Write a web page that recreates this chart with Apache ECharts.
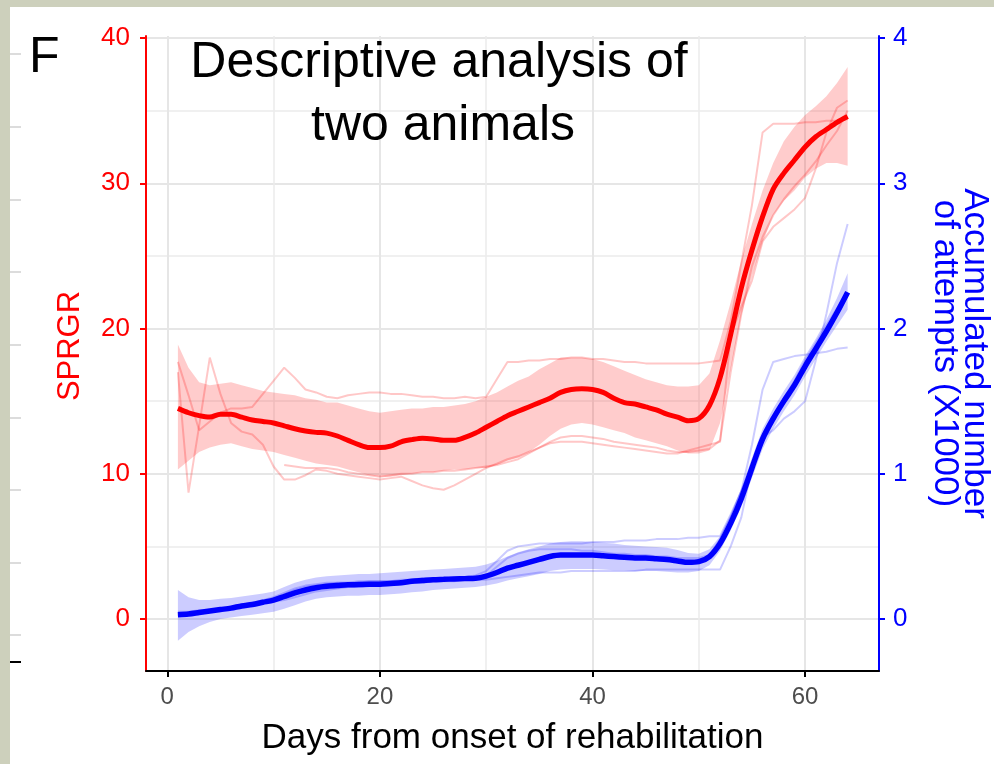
<!DOCTYPE html>
<html>
<head>
<meta charset="utf-8">
<title>Descriptive analysis of two animals</title>
<script src="https://cdn.jsdelivr.net/npm/echarts@6/dist/echarts.min.js"></script>
<style>
  html, body { margin: 0; padding: 0; background: #cdd0bc; }
  #chart { width: 994px; height: 764px; }
</style>
</head>
<body>
<div id="chart"></div>
<script>
// Days since the start of rehabilitation
const days = Array.from({ length: 64 }, (_, i) => i + 1);

// SPRGR: smoothed mean with its confidence band
const sprgrMean = [
  14.5, 14.2, 14.0, 13.9, 14.1, 14.1, 13.9, 13.7, 13.6, 13.5,
  13.3, 13.1, 12.95, 12.85, 12.8, 12.6, 12.3, 12.0, 11.8, 11.8,
  11.9, 12.2, 12.35, 12.45, 12.4, 12.3, 12.3, 12.5, 12.8, 13.2,
  13.6, 14.0, 14.3, 14.6, 14.9, 15.2, 15.6, 15.8, 15.85, 15.8,
  15.6, 15.2, 14.9, 14.8, 14.6, 14.4, 14.1, 13.9, 13.65, 13.8,
  14.7, 16.6, 19.6, 22.8, 25.4, 27.7, 29.6, 30.7, 31.6, 32.5,
  33.2, 33.7, 34.2, 34.6
];
const sprgrUpper = [
  18.9, 17.3, 16.3, 16.1, 16.2, 16.3, 16.1, 15.9, 15.7, 15.6,
  15.5, 15.4, 15.2, 15.1, 14.9, 14.9, 14.7, 14.5, 14.3, 14.2,
  14.3, 14.4, 14.5, 14.5, 14.6, 14.6, 14.7, 14.8, 15.0, 15.3,
  15.6, 16.0, 16.4, 16.7, 17.2, 17.6, 18.0, 18.0, 18.0, 17.9,
  17.7, 17.4, 17.1, 16.8, 16.5, 16.3, 16.1, 16.0, 16.0, 16.1,
  16.9, 19.2, 21.8, 24.7, 27.2, 29.5, 31.4, 32.9, 33.9, 34.7,
  35.3, 36.0, 36.9, 38.0
];
const sprgrLower = [
  10.3, 10.9, 11.5, 11.8, 12.0, 12.1, 11.9, 11.7, 11.6, 11.5,
  11.3, 11.1, 10.9, 10.7, 10.6, 10.5, 10.3, 10.1, 9.9, 9.8,
  9.8, 9.9, 10.0, 10.1, 10.1, 10.2, 10.3, 10.3, 10.4, 10.4,
  10.6, 10.9, 11.1, 11.5, 12.0, 12.6, 13.1, 13.4, 13.5, 13.4,
  13.2, 13.0, 12.8, 12.5, 12.3, 12.1, 11.9, 11.6, 11.4, 11.4,
  11.6, 13.5, 17.2, 20.9, 23.6, 25.9, 27.8, 28.8, 29.5, 30.4,
  31.0, 31.4, 31.4, 31.2
];
// SPRGR: individual traces
const sprgrTraceA = [
  17.7, 15.4, 13.0, 13.6, 14.2, 14.5, 14.5, 14.6, 15.5, 16.4,
  17.3, 16.6, 15.8, 15.6, 15.3, 15.2, 15.4, 15.5, 15.6, 15.6,
  15.5, 15.5, 15.4, 15.3, 15.3, 15.2, 15.2, 15.3, 15.2, 15.3,
  16.5, 17.7, 17.7, 17.8, 17.8, 17.9, 17.9, 18.0, 18.0, 17.9,
  17.9, 17.8, 17.7, 17.7, 17.6, 17.6, 17.6, 17.6, 17.6, 17.6,
  17.7, 17.8, 20.5, 24.5, 28.5, 33.5, 34.1, 34.1, 34.1, 34.2,
  34.2, 34.3, 34.3, 34.4
];
const sprgrTraceB = [
  17.0, 8.7, 13.3, 18.0, 15.5, 13.5, 12.9, 12.7, 12.0, 10.5,
  9.6, 9.6, 9.9, 10.3, 10.2, 10.0, 9.9, 9.8, 9.7, 9.6,
  9.7, 9.8, 9.5, 9.2, 9.0, 8.9, 9.2, 9.6, 10.0, 10.4,
  10.7, 11.0, 11.2, 11.5, 11.8, 12.1, 12.2, 12.2, 12.2, 12.1,
  12.0, 11.9, 11.8, 11.7, 11.6, 11.5, 11.4, 11.4, 11.6, 11.8,
  12.0, 12.2, 19.5, 21.5, 23.3, 26.0, 27.0, 27.6, 28.2, 29.0,
  31.0, 33.5, 35.2, 35.7
];
const sprgrTraceC = [
  null, null, null, null, null, null, null, null, null, null,
  10.6, 10.5, 10.4, 10.4, 10.4, 10.3, 10.1, 10.0, 9.9, 9.8,
  9.9, 10.0, 10.0, 10.1, 10.1, 10.2, 10.2, 10.3, 10.4, 10.5,
  10.6, 10.8, 11.0, 11.4, 11.8, 12.2, 12.5, 12.6, 12.6, 12.5,
  12.4, 12.2, 12.1, 12.0, 11.9, 11.8, 11.6, 11.5, 11.5, 11.6,
  11.7, 12.3, 17.0, 21.0, 24.3, 26.3, 27.8, 28.9, 29.8, 30.6,
  31.5, 32.6, 33.6, 35.0
];

// Accumulated attempts (thousands): smoothed mean with its confidence band
const attMean = [
  0.03, 0.035, 0.045, 0.055, 0.065, 0.075, 0.09, 0.10, 0.115, 0.13,
  0.155, 0.18, 0.20, 0.215, 0.225, 0.23, 0.235, 0.237, 0.24, 0.24,
  0.245, 0.25, 0.26, 0.265, 0.27, 0.273, 0.276, 0.278, 0.28, 0.295,
  0.32, 0.35, 0.37, 0.39, 0.41, 0.43, 0.44, 0.44, 0.44, 0.44,
  0.435, 0.43, 0.425, 0.42, 0.42, 0.415, 0.41, 0.40, 0.39, 0.395,
  0.43, 0.52, 0.66, 0.83, 1.04, 1.24, 1.38, 1.50, 1.61, 1.74,
  1.86, 1.98, 2.11, 2.25
];
const attUpper = [
  0.20, 0.15, 0.13, 0.13, 0.14, 0.145, 0.155, 0.165, 0.175, 0.19,
  0.22, 0.25, 0.27, 0.285, 0.295, 0.30, 0.305, 0.31, 0.31, 0.315,
  0.32, 0.325, 0.33, 0.335, 0.34, 0.345, 0.35, 0.355, 0.36, 0.375,
  0.40, 0.43, 0.46, 0.48, 0.50, 0.52, 0.53, 0.535, 0.535, 0.53,
  0.525, 0.52, 0.51, 0.505, 0.50, 0.495, 0.49, 0.475, 0.455, 0.45,
  0.48, 0.57, 0.72, 0.90, 1.11, 1.31, 1.45, 1.57, 1.68, 1.81,
  1.93, 2.06, 2.21, 2.38
];
const attLower = [
  -0.15, -0.09, -0.05, -0.02, 0.0, 0.01, 0.02, 0.03, 0.04, 0.05,
  0.07, 0.095, 0.12, 0.14, 0.15, 0.155, 0.16, 0.16, 0.165, 0.165,
  0.17, 0.175, 0.185, 0.19, 0.20, 0.205, 0.21, 0.215, 0.22, 0.23,
  0.245, 0.265, 0.28, 0.295, 0.31, 0.33, 0.34, 0.345, 0.345, 0.345,
  0.34, 0.335, 0.335, 0.33, 0.33, 0.33, 0.325, 0.32, 0.32, 0.33,
  0.37, 0.47, 0.61, 0.77, 0.97, 1.17, 1.31, 1.43, 1.54, 1.67,
  1.79, 1.91, 2.02, 2.13
];
// Accumulated attempts (thousands): individual traces
const attTraceA = [
  0.02, 0.03, 0.04, 0.05, 0.06, 0.07, 0.08, 0.10, 0.12, 0.14,
  0.17, 0.20, 0.22, 0.23, 0.24, 0.25, 0.25, 0.25, 0.26, 0.26,
  0.26, 0.27, 0.27, 0.28, 0.28, 0.28, 0.29, 0.29, 0.30, 0.33,
  0.40, 0.47, 0.50, 0.51, 0.52, 0.52, 0.52, 0.52, 0.52, 0.53,
  0.53, 0.53, 0.54, 0.54, 0.54, 0.55, 0.55, 0.55, 0.56, 0.56,
  0.57, 0.57, 0.72, 0.88, 1.20, 1.58, 1.77, 1.79, 1.81, 1.82,
  1.83, 1.84, 1.86, 1.87
];
const attTraceB = [
  0.05, 0.05, 0.06, 0.06, 0.07, 0.08, 0.09, 0.10, 0.11, 0.12,
  0.13, 0.15, 0.17, 0.19, 0.20, 0.21, 0.22, 0.22, 0.23, 0.23,
  0.24, 0.24, 0.25, 0.25, 0.26, 0.26, 0.26, 0.27, 0.27, 0.27,
  0.28, 0.29, 0.30, 0.31, 0.32, 0.32, 0.32, 0.33, 0.33, 0.33,
  0.33, 0.33, 0.33, 0.33, 0.34, 0.34, 0.34, 0.34, 0.34, 0.34,
  0.34, 0.34, 0.50, 0.70, 1.05, 1.25, 1.30, 1.38, 1.43, 1.50,
  1.78, 2.10, 2.45, 2.72
];
const attTraceC = [
  0.03, 0.04, 0.05, 0.06, 0.07, 0.08, 0.10, 0.11, 0.13, 0.15,
  0.18, 0.21, 0.23, 0.24, 0.25, 0.25, 0.25, 0.26, 0.26, 0.26,
  0.26, 0.26, 0.27, 0.27, 0.28, 0.28, 0.28, 0.28, 0.28, 0.30,
  0.36, 0.42, 0.45, 0.47, 0.48, 0.48, 0.48, 0.48, 0.47, 0.47,
  0.46, 0.45, 0.45, 0.44, 0.44, 0.43, 0.43, 0.42, 0.42, 0.42,
  0.44, 0.55, 0.70, 0.88, 1.05, 1.22, 1.38, 1.52, 1.64, 1.78,
  1.90, 2.02, 2.14, 2.25
];

// Tick labels
const dayTicks = [0, 20, 40, 60];
const sprgrTicks = [0, 10, 20, 30, 40];
const attTicks = [0, 1, 2, 3, 4];

const RED = '#ff0000';
const BLUE = '#0000ff';
const FONT = '"Liberation Sans", Arial, sans-serif';

const pairs = vals => vals.map((v, i) => [days[i], v]);

// Confidence band drawn as one polygon: upper edge forward, lower edge back
function band(lower, upper, axis, fill) {
  return {
    type: 'custom', yAxisIndex: axis, silent: true, z: 2,
    data: pairs(lower),
    renderItem(params, api) {
      if (params.dataIndex !== 0) return null;
      const top = upper.map((u, i) => api.coord([days[i], u]));
      const bottom = lower.map((l, i) => api.coord([days[i], l])).reverse();
      return {
        type: 'polygon',
        shape: { points: top.concat(bottom) },
        style: { fill: fill, stroke: null }
      };
    }
  };
}

function trace(vals, axis, color) {
  return {
    type: 'line', yAxisIndex: axis, data: pairs(vals), symbol: 'none',
    connectNulls: false, lineStyle: { color, width: 2 }, silent: true, z: 3
  };
}

function meanLine(vals, axis, color, width) {
  return {
    type: 'line', yAxisIndex: axis, data: pairs(vals), symbol: 'none',
    smooth: 0.3, lineStyle: { color, width }, silent: true, z: 4
  };
}

// Faint tick marks along the left edge of the page
const edgeMarks = [54, 127, 200, 272, 345, 418, 490, 563, 635].map(y => ({
  type: 'line', shape: { x1: 10, y1: y, x2: 21, y2: y },
  style: { stroke: '#dcdcdc', lineWidth: 2 }, z: -5, silent: true
}));

const chart = echarts.init(document.getElementById('chart'), null, { renderer: 'canvas' });

chart.setOption({
  animation: false,
  backgroundColor: '#cdd0bc',
  graphic: [
    { type: 'rect', shape: { x: 10, y: 7, width: 984, height: 757 },
      style: { fill: '#ffffff' }, z: -10, silent: true },
    ...edgeMarks,
    { type: 'line', shape: { x1: 10, y1: 662, x2: 21, y2: 662 },
      style: { stroke: '#000000', lineWidth: 2 }, z: -5, silent: true },
    { type: 'text', x: 29, y: 58, z: 10,
      style: { text: 'F', font: '50px ' + FONT, fill: '#000000',
               textAlign: 'left', textVerticalAlign: 'middle' } },
    { type: 'text', x: 439, y: 63, z: 10,
      style: { text: 'Descriptive analysis of', font: '50px ' + FONT, fill: '#000000',
               textAlign: 'center', textVerticalAlign: 'middle' } },
    { type: 'text', x: 443, y: 126, z: 10,
      style: { text: 'two animals', font: '50px ' + FONT, fill: '#000000',
               textAlign: 'center', textVerticalAlign: 'middle' } },
    { type: 'text', x: 70, y: 346, rotation: Math.PI / 2, z: 10,
      style: { text: 'SPRGR', font: '31px ' + FONT, fill: RED,
               textAlign: 'center', textVerticalAlign: 'middle' } }
  ],
  grid: { left: 146, right: 115, top: 36, bottom: 93,
          containLabel: false, outerBoundsMode: 'none' },
  xAxis: {
    type: 'value', min: -2.0, max: 66.95, splitNumber: 3,
    name: 'Days from onset of rehabilitation', nameLocation: 'middle', nameGap: 50,
    nameTextStyle: { color: '#000000', fontSize: 35, fontFamily: FONT },
    axisLine: { show: true, onZero: false, lineStyle: { color: '#000000', width: 2 } },
    axisTick: { show: true, length: 6, customValues: dayTicks,
                lineStyle: { color: '#000000', width: 2 } },
    axisLabel: { customValues: dayTicks, color: '#4d4d4d', fontSize: 24,
                 fontFamily: FONT, margin: 14 },
    splitLine: { show: true, lineStyle: { color: '#e6e6e6', width: 2 } },
    minorTick: { show: false, splitNumber: 2 },
    minorSplitLine: { show: true, lineStyle: { color: '#ececec', width: 1.5 } }
  },
  yAxis: [
    {
      type: 'value', position: 'left', min: -3.58, max: 40.14, splitNumber: 5,
      axisLine: { show: true, onZero: false, lineStyle: { color: RED, width: 2 } },
      axisTick: { show: true, length: 6, customValues: sprgrTicks,
                  lineStyle: { color: RED, width: 2 } },
      axisLabel: { customValues: sprgrTicks, color: RED, fontSize: 26,
                   fontFamily: FONT, margin: 16 },
      splitLine: { show: true, lineStyle: { color: '#e6e6e6', width: 2 } },
      minorTick: { show: false, splitNumber: 2 },
      minorSplitLine: { show: true, lineStyle: { color: '#ececec', width: 1.5 } }
    },
    {
      type: 'value', position: 'right', min: -0.358, max: 4.014, splitNumber: 5,
      name: 'Accumulated number\nof attempts (X1000)', nameLocation: 'middle',
      nameGap: 51, nameRotate: -90,
      nameTextStyle: { color: BLUE, fontSize: 35, lineHeight: 30, fontFamily: FONT },
      axisLine: { show: true, onZero: false, lineStyle: { color: BLUE, width: 2 } },
      axisTick: { show: true, length: 6, customValues: attTicks,
                  lineStyle: { color: BLUE, width: 2 } },
      axisLabel: { customValues: attTicks, color: BLUE, fontSize: 26,
                   fontFamily: FONT, margin: 14 },
      splitLine: { show: false }
    }
  ],
  series: [
    band(sprgrLower, sprgrUpper, 0, 'rgba(255,0,0,0.2)'),
    trace(sprgrTraceA, 0, 'rgba(255,0,0,0.22)'),
    trace(sprgrTraceB, 0, 'rgba(255,0,0,0.22)'),
    trace(sprgrTraceC, 0, 'rgba(255,0,0,0.22)'),
    band(attLower, attUpper, 1, 'rgba(0,0,255,0.2)'),
    trace(attTraceA, 1, 'rgba(0,0,255,0.2)'),
    trace(attTraceB, 1, 'rgba(0,0,255,0.2)'),
    trace(attTraceC, 1, 'rgba(0,0,255,0.2)'),
    meanLine(sprgrMean, 0, RED, 5),
    meanLine(attMean, 1, BLUE, 5.5)
  ]
});
</script>
</body>
</html>
